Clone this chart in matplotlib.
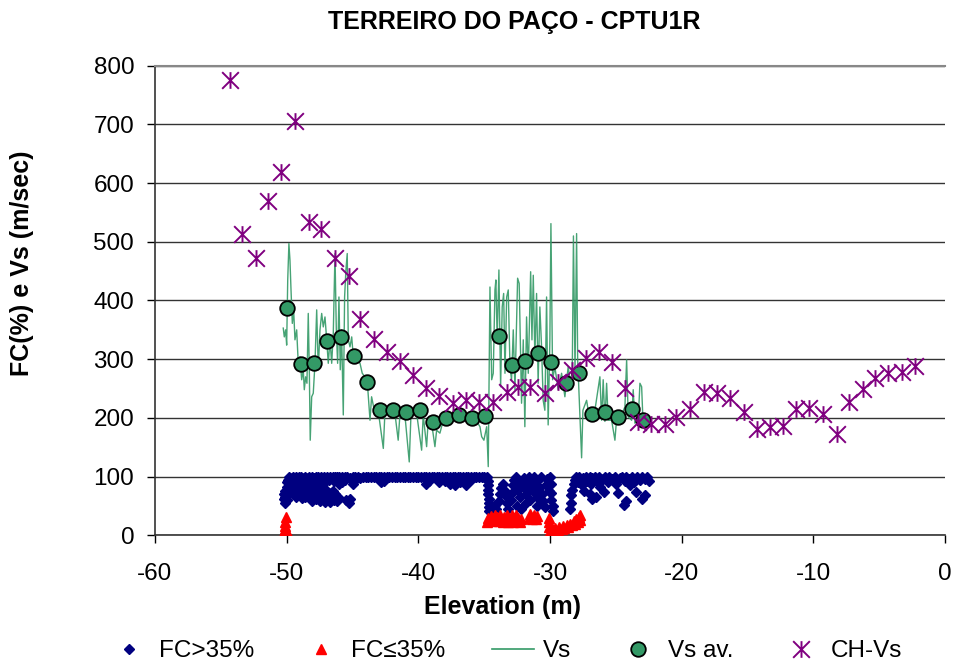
import matplotlib
matplotlib.use("Agg")
import matplotlib.pyplot as plt
from matplotlib.path import Path
from matplotlib.lines import Line2D

plt.rcParams["font.family"] = ["Liberation Sans", "DejaVu Sans"]
plt.rcParams["axes.unicode_minus"] = False

# ---- data ----
# CH-Vs (cross-hole shear wave velocity)
ch_elev = [-54.3, -53.4, -52.3, -51.4, -50.4, -49.4, -48.3, -47.4, -46.3, -45.3,
           -44.4, -43.4, -42.4, -41.4, -40.4, -39.4, -38.4, -37.4, -36.4, -35.4,
           -34.3, -33.3, -32.4, -31.5, -30.4, -29.4, -28.3, -27.3, -26.3, -25.3,
           -24.3, -23.3, -22.3, -21.3, -20.4, -19.4, -18.3, -17.3, -16.3, -15.3,
           -14.3, -13.3, -12.3, -11.3, -10.3, -9.3, -8.2, -7.3, -6.2, -5.3,
           -4.3, -3.3, -2.3]
ch_vs = [776, 513, 472, 570, 619, 706, 534, 522, 472, 442,
         368, 334, 312, 297, 273, 251, 237, 225, 230, 227,
         227, 244, 253, 253, 242, 261, 282, 302, 312, 295,
         251, 193, 190, 190, 202, 215, 244, 242, 234, 210,
         181, 184, 186, 215, 217, 207, 173, 227, 249, 268,
         277, 278, 288]

# Vs averaged per metre
vsav_elev = [-50.0, -48.9, -47.9, -46.9, -45.9, -44.9, -43.9, -42.9, -41.9, -40.9,
             -39.9, -38.9, -37.9, -36.9, -35.9, -34.9, -33.9, -32.9, -31.9, -30.9,
             -29.9, -28.8, -27.8, -26.8, -25.8, -24.8, -23.8, -22.9]
vsav = [387, 292, 293, 331, 338, 305, 261, 213, 213, 210,
        213, 193, 200, 205, 200, 204, 340, 290, 297, 311,
        295, 259, 276, 207, 210, 202, 215, 196]

# Vs from CPTU (continuous)
vs_elev = [-50.26, -50.18, -50.08, -50.00, -49.92, -49.83, -49.75, -49.67, -49.57, -49.47,
           -49.37, -49.24, -49.12, -48.99, -48.86, -48.74, -48.66, -48.56, -48.46, -48.36,
           -48.28, -48.21, -48.10, -47.98, -47.85, -47.72, -47.60, -47.47, -47.34, -47.22,
           -47.09, -46.96, -46.84, -46.71, -46.58, -46.46, -46.33, -46.23, -46.13, -46.03,
           -45.93, -45.83, -45.70, -45.60, -45.50, -45.40, -45.32, -45.19, -45.06, -44.94,
           -44.69, -44.43, -44.26, -44.05, -43.85, -43.67, -43.55, -43.40, -43.30, -43.04,
           -42.66, -42.54, -42.16, -41.78, -41.53, -41.40, -41.02, -40.69, -40.56, -40.13,
           -39.75, -39.63, -39.37, -39.25, -38.99, -38.74, -38.61, -38.36, -38.11, -37.73,
           -37.35, -36.97, -36.59, -36.21, -35.70, -35.32, -35.19, -35.02, -34.81, -34.69,
           -34.62, -34.56, -34.43, -34.31, -34.18, -34.11, -34.01, -33.88, -33.75, -33.63,
           -33.52, -33.42, -33.29, -33.17, -33.04, -32.92, -32.79, -32.66, -32.46, -32.34,
           -32.16, -32.03, -31.91, -31.78, -31.65, -31.47, -31.37, -31.27, -31.15, -31.02,
           -30.90, -30.77, -30.64, -30.52, -30.39, -30.26, -30.14, -30.01, -29.93, -29.80,
           -29.63, -29.38, -29.12, -28.87, -28.62, -28.36, -28.30, -28.22, -28.10, -27.98,
           -27.90, -27.60, -27.50, -27.22, -26.97, -26.59, -26.21, -26.08, -25.96, -25.83,
           -25.70, -25.58, -25.32, -25.07, -24.94, -24.56, -24.31, -24.18, -24.06, -23.80,
           -23.68, -23.55, -23.30, -23.17, -23.04, -22.92, -22.67]
vs = [353, 338, 350, 324, 435, 497, 469, 418, 361, 384,
      333, 350, 293, 304, 265, 282, 248, 270, 259, 378,
      282, 162, 236, 242, 293, 384, 282, 350, 378, 355,
      372, 333, 293, 333, 293, 344, 480, 350, 293, 406,
      282, 350, 205, 406, 452, 480, 333, 321, 338, 304,
      299, 293, 276, 270, 253, 196, 236, 219, 208, 211,
      148, 208, 211, 208, 162, 205, 205, 125, 205, 208,
      145, 205, 151, 196, 191, 151, 179, 174, 196, 199,
      199, 205, 202, 201, 199, 185, 168, 162, 185, 117,
      276, 423, 265, 276, 418, 435, 333, 452, 253, 389,
      412, 276, 406, 418, 287, 265, 350, 248, 438, 429,
      225, 333, 185, 372, 276, 449, 333, 443, 304, 412,
      259, 389, 321, 230, 213, 406, 188, 333, 531, 265,
      287, 248, 276, 236, 287, 248, 300, 510, 280, 514,
      300, 132, 213, 230, 194, 213, 270, 196, 265, 194,
      259, 196, 196, 162, 199, 205, 219, 299, 202, 196,
      248, 191, 196, 259, 253, 185, 196]

# fines content > 35 %  (elevation, FC)
fc_hi = [
    (-50.2, 62), (-50.2, 70), (-50.1, 55), (-50.1, 66), (-50.1, 76), (-50.0, 60), (-50.0, 82), (-50.0, 90),
    (-49.9, 72), (-49.9, 95), (-49.8, 85), (-49.8, 99), (-49.7, 90), (-49.7, 76), (-49.6, 98), (-49.6, 82),
    (-49.5, 100), (-49.5, 70), (-49.4, 95), (-49.4, 74), (-49.3, 100), (-49.3, 65), (-49.2, 96), (-49.2, 72),
    (-49.1, 99), (-49.1, 80), (-49.0, 92), (-49.0, 68), (-48.9, 100), (-48.9, 85), (-48.8, 97), (-48.8, 63),
    (-48.7, 90), (-48.7, 75), (-48.6, 100), (-48.6, 66), (-48.5, 94), (-48.5, 80), (-48.4, 98), (-48.4, 72),
    (-48.3, 88), (-48.3, 100), (-48.2, 95), (-48.2, 64), (-48.1, 100), (-48.1, 58), (-48.0, 86), (-48.0, 70),
    (-47.9, 97), (-47.9, 76), (-47.8, 100), (-47.8, 62), (-47.7, 93), (-47.7, 68), (-47.6, 99), (-47.6, 80),
    (-47.5, 92), (-47.5, 58), (-47.4, 100), (-47.4, 74), (-47.3, 96), (-47.3, 86), (-47.2, 100), (-47.2, 66),
    (-47.1, 91), (-47.1, 56), (-47.0, 98), (-47.0, 78), (-46.9, 100), (-46.9, 62), (-46.8, 95), (-46.8, 72),
    (-46.7, 100), (-46.7, 56), (-46.6, 97), (-46.6, 66), (-46.5, 100), (-46.5, 76), (-46.4, 93), (-46.4, 60),
    (-46.3, 99), (-46.3, 70), (-46.2, 100), (-46.2, 58), (-46.1, 96), (-46.1, 66), (-46.0, 100), (-46.0, 88),
    (-45.9, 98), (-45.8, 100), (-45.8, 90), (-45.6, 100), (-45.6, 94), (-45.5, 60), (-45.4, 100), (-45.3, 55),
    (-45.2, 98), (-45.2, 62), (-45.0, 100), (-45.0, 88), (-44.8, 100), (-44.8, 94), (-44.6, 100), (-44.4, 97),
    (-44.2, 100), (-44.0, 100), (-43.8, 100), (-43.6, 100), (-43.4, 100), (-43.2, 100), (-43.0, 100), (-42.8, 100),
    (-42.8, 90), (-42.6, 93), (-42.6, 100), (-42.4, 100), (-42.2, 100), (-42.0, 100), (-41.8, 100), (-41.6, 100),
    (-41.4, 100), (-41.2, 100), (-41.0, 100), (-40.8, 100), (-40.6, 100), (-40.4, 100), (-40.2, 100), (-40.0, 100),
    (-39.8, 100), (-39.6, 100), (-39.4, 100), (-39.4, 88), (-39.2, 92), (-39.2, 100), (-39.0, 100), (-38.8, 100),
    (-38.6, 100), (-38.4, 100), (-38.4, 90), (-38.2, 100), (-38.0, 100), (-38.0, 92), (-37.8, 100), (-37.6, 100),
    (-37.6, 88), (-37.4, 100), (-37.2, 100), (-37.2, 85), (-37.0, 100), (-36.8, 100), (-36.8, 90), (-36.6, 100),
    (-36.4, 100), (-36.4, 86), (-36.2, 100), (-36.0, 100), (-36.0, 94), (-35.8, 100), (-35.6, 100), (-35.4, 100),
    (-35.2, 100), (-35.0, 100),
    (-34.8, 100), (-34.7, 92), (-34.7, 85), (-34.7, 77), (-34.7, 70), (-34.6, 62), (-34.6, 55), (-34.6, 48),
    (-34.6, 42), (-34.4, 45), (-34.2, 52), (-34.1, 44), (-33.9, 58), (-33.8, 70), (-33.7, 80), (-33.6, 88),
    (-33.5, 78), (-33.4, 68), (-33.3, 55), (-33.2, 45), (-33.0, 60), (-32.9, 72), (-32.8, 85), (-32.7, 95),
    (-32.6, 100), (-32.5, 90), (-32.5, 50), (-32.4, 78), (-32.3, 65), (-32.2, 45), (-32.1, 88), (-32.0, 98),
    (-31.9, 80), (-31.8, 70), (-31.8, 55), (-31.7, 92), (-31.6, 100), (-31.5, 84), (-31.5, 60), (-31.4, 96),
    (-31.3, 75), (-31.2, 100), (-31.1, 88), (-31.0, 66), (-31.0, 50), (-30.9, 95), (-30.8, 80), (-30.7, 100),
    (-30.6, 70), (-30.5, 58), (-30.4, 48), (-30.3, 85), (-30.2, 96), (-30.1, 75), (-30.0, 100), (-29.9, 88),
    (-29.9, 72), (-29.9, 60), (-29.8, 50), (-29.8, 42),
    (-28.5, 45), (-28.4, 55), (-28.4, 68), (-28.3, 78), (-28.2, 88), (-28.1, 95), (-28.0, 100), (-27.9, 90),
    (-27.8, 100), (-27.7, 95), (-27.6, 86), (-27.5, 98), (-27.4, 76), (-27.3, 100), (-27.2, 92), (-27.0, 70),
    (-27.0, 100), (-26.9, 88), (-26.8, 62), (-26.8, 98), (-26.6, 100), (-26.5, 66), (-26.5, 94), (-26.3, 100),
    (-26.2, 82), (-26.0, 96), (-25.9, 74), (-25.8, 100), (-25.6, 90), (-25.5, 100), (-25.3, 96), (-25.1, 100),
    (-25.0, 88), (-24.8, 72), (-24.7, 98), (-24.5, 100), (-24.4, 52), (-24.3, 92), (-24.2, 58), (-24.2, 100),
    (-24.0, 96), (-23.9, 85), (-23.8, 100), (-23.6, 90), (-23.5, 74), (-23.4, 100), (-23.2, 94), (-23.0, 62),
    (-23.0, 100), (-22.8, 68), (-22.8, 96), (-22.6, 100), (-22.5, 92),
]

# fines content <= 35 %  (elevation, FC)
fc_lo = [
    (-50.1, 2), (-50.2, 5), (-50.0, 6), (-50.1, 10), (-50.1, 16), (-50.1, 22), (-50.05, 32),
    (-34.8, 22), (-34.7, 30), (-34.6, 26), (-34.5, 33), (-34.4, 24), (-34.3, 30), (-34.2, 35), (-34.1, 27),
    (-34.0, 32), (-33.9, 24), (-33.8, 34), (-33.7, 28), (-33.6, 22), (-33.5, 32), (-33.4, 27), (-33.3, 35),
    (-33.2, 22), (-33.1, 30), (-33.0, 26), (-32.9, 34), (-32.8, 22), (-32.7, 29), (-32.6, 35), (-32.5, 24),
    (-32.4, 30), (-32.3, 22), (-32.2, 28),
    (-31.6, 30), (-31.5, 36), (-31.4, 27), (-31.2, 34), (-31.1, 28), (-31.0, 33),
    (-30.1, 30), (-30.1, 22), (-30.1, 14), (-30.0, 7), (-30.0, 2), (-29.8, 3), (-29.6, 6), (-29.6, 12),
    (-29.4, 8), (-29.3, 14), (-29.1, 10), (-29.0, 16), (-28.9, 12), (-28.7, 18), (-28.6, 14), (-28.5, 20),
    (-28.3, 17), (-28.2, 24), (-28.1, 20), (-28.0, 28), (-27.9, 22), (-27.8, 32), (-27.7, 26), (-27.7, 35),
]

x_ticks = list(range(-60, 1, 10))
y_ticks = list(range(0, 801, 100))

# ---- plotting ----
FS = 17.5
navy = "#000080"
green = "#339966"
purple = "#800080"

# Excel style "star" marker: an X with a vertical bar through it
star = Path([(-1, -1), (1, 1), (-1, 1), (1, -1), (0, -1), (0, 1)],
            [Path.MOVETO, Path.LINETO, Path.MOVETO, Path.LINETO, Path.MOVETO, Path.LINETO])

fig = plt.figure(figsize=(9.57, 6.63), dpi=100)
ax = fig.add_axes([155 / 957, 1 - 535.3 / 663, 790 / 957, 469.6 / 663])

ax.plot([p[0] for p in fc_hi], [p[1] for p in fc_hi], linestyle="none",
        marker="D", markersize=5, color=navy, zorder=3)
ax.plot([p[0] for p in fc_lo], [p[1] for p in fc_lo], linestyle="none",
        marker="^", markersize=6.5, color="#FF0000", zorder=3)
ax.plot(vs_elev, vs, color=green, linewidth=1.0, alpha=0.9, zorder=4)
ax.plot(vsav_elev, vsav, linestyle="none", marker="o", markersize=10.5,
        markerfacecolor=green, markeredgecolor="black", markeredgewidth=1.3, zorder=5)
ax.plot(ch_elev, ch_vs, linestyle="none", marker=star, markersize=12,
        markerfacecolor="none", markeredgecolor=purple, markeredgewidth=1.4, zorder=6)

ax.set_xlim(-60, 0)
ax.set_ylim(0, 800)
ax.set_xticks(x_ticks)
ax.set_yticks(y_ticks)
ax.yaxis.grid(True, color="#333333", linewidth=1.0)
ax.set_axisbelow(True)
ax.tick_params(direction="out", length=6, width=1.0, labelsize=FS)
ax.tick_params(axis="y", pad=9)
ax.tick_params(axis="x", pad=14)

for side in ["left", "bottom"]:
    ax.spines[side].set_color("#333333")
    ax.spines[side].set_linewidth(1.2)
ax.spines["right"].set_visible(False)
ax.spines["top"].set_color("#888888")
ax.spines["top"].set_linewidth(1.5)

fig.text(514 / 957, 1 - 22 / 663, "TERREIRO DO PAÇO - CPTU1R", ha="center", va="center",
         fontsize=18, fontweight="bold")
fig.text(503 / 957, 1 - 607 / 663, "Elevation (m)", ha="center", va="center",
         fontsize=18, fontweight="bold")
fig.text(22 / 957, 1 - 263 / 663, "FC(%) e Vs (m/sec)", ha="center", va="center",
         rotation=90, fontsize=18, fontweight="bold")

handles = [
    Line2D([], [], linestyle="none", marker="D", markersize=5, color=navy),
    Line2D([], [], linestyle="none", marker="^", markersize=6.5, color="#FF0000"),
    Line2D([], [], color=green, linewidth=1.2),
    Line2D([], [], linestyle="none", marker="o", markersize=10.5, markerfacecolor=green,
           markeredgecolor="black", markeredgewidth=1.3),
    Line2D([], [], linestyle="none", marker=star, markersize=12, markerfacecolor="none",
           markeredgecolor=purple, markeredgewidth=1.4),
]
labels = ["FC>35%", "FC≤35%", "Vs", "Vs av.", "CH-Vs"]
fig.legend(handles, labels, loc="center", bbox_to_anchor=(505 / 957, 1 - 651 / 663),
           ncol=5, frameon=False, fontsize=FS, handlelength=1.75, handletextpad=0.35,
           columnspacing=1.9, borderpad=0.1)

fig.savefig("out.png", dpi=100)
